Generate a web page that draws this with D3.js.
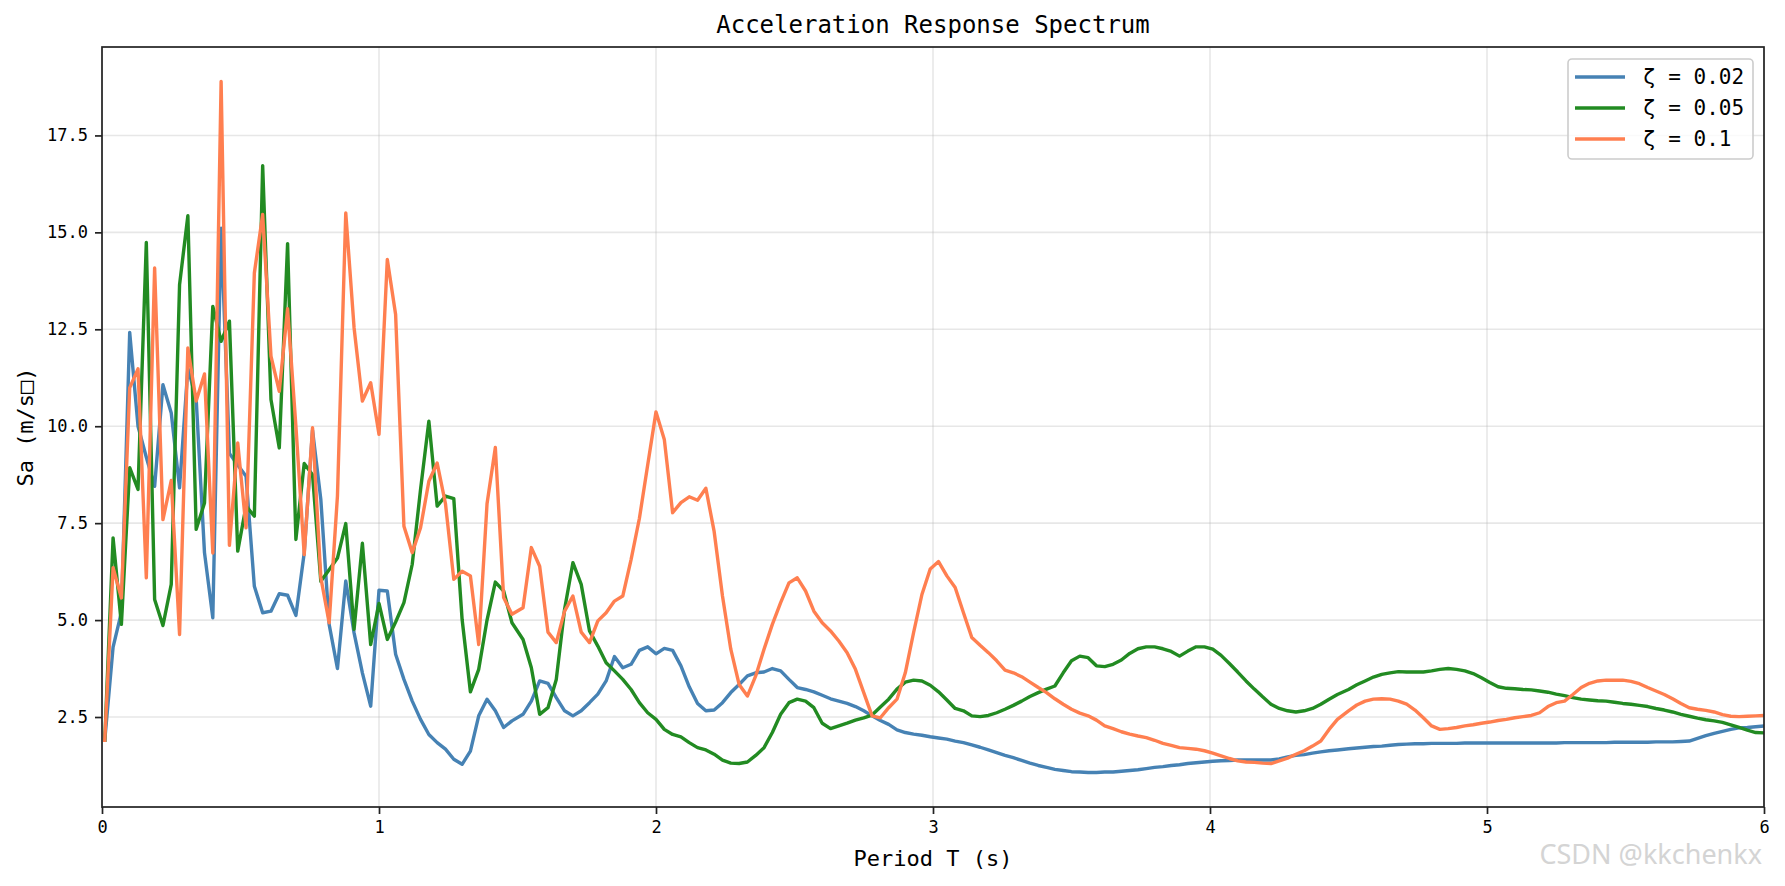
<!DOCTYPE html>
<html>
<head>
<meta charset="utf-8">
<script src="https://cdn.jsdelivr.net/npm/d3@7"></script>
<style>
  html, body { margin: 0; padding: 0; background: #fff; }
  svg { display: block; }
  text { font-family: "DejaVu Sans Mono", "Liberation Mono", monospace; }
</style>
</head>
<body>
<svg id="chart" width="1785" height="886"></svg>
<script>
// ---------------- DATA ----------------
const periods = [
0.01,0.04,0.07,0.10,0.13,0.16,0.19,0.22,0.25,0.28,
0.31,0.34,0.37,0.40,0.43,0.46,0.49,0.52,0.55,0.58,
0.61,0.64,0.67,0.70,0.73,0.76,0.79,0.82,0.85,0.88,
0.91,0.94,0.97,1.00,1.03,1.06,1.09,1.12,1.15,1.18,
1.21,1.24,1.27,1.30,1.33,1.36,1.39,1.42,1.45,1.48,
1.52,1.55,1.58,1.61,1.64,1.67,1.70,1.73,1.76,1.79,
1.82,1.85,1.88,1.91,1.94,1.97,2.00,2.03,2.06,2.09,
2.12,2.15,2.18,2.21,2.24,2.27,2.30,2.33,2.36,2.39,
2.42,2.45,2.48,2.51,2.54,2.57,2.60,2.63,2.66,2.69,
2.72,2.75,2.78,2.81,2.84,2.87,2.90,2.93,2.96,2.99,
3.02,3.05,3.08,3.11,3.14,3.17,3.20,3.23,3.26,3.29,
3.32,3.35,3.38,3.41,3.44,3.47,3.50,3.53,3.56,3.59,
3.62,3.65,3.68,3.71,3.74,3.77,3.80,3.83,3.86,3.89,
3.92,3.95,3.98,4.01,4.04,4.07,4.10,4.13,4.16,4.19,
4.22,4.25,4.28,4.31,4.34,4.37,4.40,4.43,4.46,4.50,
4.53,4.56,4.59,4.62,4.65,4.68,4.71,4.74,4.77,4.80,
4.83,4.86,4.89,4.92,4.95,4.98,5.01,5.04,5.07,5.10,
5.13,5.16,5.19,5.22,5.25,5.28,5.31,5.34,5.37,5.40,
5.43,5.46,5.49,5.52,5.55,5.58,5.61,5.64,5.67,5.70,
5.73,5.76,5.79,5.82,5.85,5.88,5.91,5.94,5.97,6.00
];

// ζ = 0.02
const sa002 = [
1.90,4.30,5.20,12.42,10.00,9.20,8.45,11.07,10.34,8.41,
11.50,10.70,6.74,5.06,15.11,9.30,9.00,8.71,5.87,5.19,
5.23,5.68,5.64,5.12,6.73,9.90,8.11,4.89,3.75,6.01,
4.67,3.64,2.78,5.77,5.75,4.12,3.47,2.91,2.44,2.05,
1.84,1.67,1.41,1.28,1.62,2.53,2.96,2.66,2.23,2.40,
2.57,2.91,3.43,3.37,3.00,2.66,2.53,2.66,2.87,3.09,
3.43,4.06,3.77,3.86,4.22,4.31,4.13,4.27,4.22,3.82,
3.28,2.85,2.66,2.68,2.87,3.13,3.34,3.56,3.64,3.66,
3.75,3.69,3.47,3.26,3.21,3.15,3.06,2.97,2.91,2.85,
2.77,2.66,2.53,2.41,2.31,2.17,2.10,2.06,2.03,1.99,
1.96,1.93,1.88,1.84,1.78,1.72,1.65,1.58,1.51,1.45,
1.38,1.31,1.25,1.20,1.15,1.12,1.09,1.08,1.07,1.07,
1.08,1.08,1.10,1.12,1.14,1.17,1.20,1.22,1.25,1.27,
1.30,1.32,1.34,1.36,1.37,1.38,1.39,1.39,1.39,1.39,
1.39,1.42,1.47,1.51,1.53,1.57,1.60,1.63,1.65,1.68,
1.70,1.72,1.74,1.75,1.77,1.79,1.80,1.81,1.81,1.82,
1.82,1.82,1.82,1.83,1.83,1.83,1.83,1.83,1.83,1.83,
1.83,1.83,1.83,1.83,1.83,1.84,1.84,1.84,1.84,1.84,
1.84,1.85,1.85,1.85,1.85,1.85,1.86,1.86,1.86,1.87,
1.88,1.95,2.02,2.08,2.13,2.18,2.22,2.23,2.25,2.27
];

// ζ = 0.05
const sa005 = [
1.90,7.12,4.89,8.93,8.37,14.74,5.53,4.86,5.92,13.65,
15.43,7.34,8.02,13.09,12.19,12.71,6.78,7.94,7.68,16.72,
10.69,9.44,14.71,7.08,9.04,8.75,6.00,6.30,6.60,7.49,
4.76,6.98,4.37,5.43,4.50,4.95,5.45,6.44,8.37,10.13,
7.94,8.20,8.13,5.02,3.15,3.73,5.00,5.98,5.75,4.93,
4.50,3.77,2.57,2.74,3.47,5.28,6.48,5.92,4.72,4.33,
3.90,3.69,3.47,3.21,2.87,2.61,2.44,2.18,2.05,1.99,
1.84,1.71,1.65,1.54,1.39,1.31,1.30,1.34,1.51,1.71,
2.10,2.57,2.87,2.96,2.91,2.74,2.34,2.20,2.27,2.34,
2.42,2.48,2.55,2.76,2.96,3.22,3.40,3.45,3.43,3.32,
3.15,2.94,2.72,2.66,2.53,2.51,2.54,2.61,2.70,2.80,
2.91,3.03,3.13,3.22,3.30,3.64,3.95,4.07,4.03,3.82,
3.80,3.86,3.97,4.14,4.26,4.31,4.31,4.26,4.19,4.07,
4.20,4.31,4.31,4.25,4.09,3.88,3.66,3.43,3.22,3.02,
2.83,2.72,2.66,2.63,2.66,2.72,2.83,2.96,3.08,3.21,
3.33,3.43,3.53,3.60,3.64,3.67,3.66,3.66,3.66,3.69,
3.73,3.75,3.73,3.69,3.62,3.51,3.39,3.28,3.24,3.23,
3.21,3.20,3.17,3.14,3.09,3.05,3.00,2.96,2.94,2.92,
2.91,2.88,2.85,2.83,2.80,2.77,2.72,2.68,2.63,2.57,
2.52,2.47,2.43,2.40,2.36,2.30,2.23,2.16,2.10,2.09
];

// ζ = 0.1
const sa010 = [
1.90,6.35,5.57,10.99,11.48,6.09,14.08,7.59,8.60,4.63,
12.02,10.65,11.35,6.73,18.89,6.93,9.57,7.38,13.95,15.46,
11.81,10.90,13.03,10.00,6.69,9.96,6.10,4.93,8.20,15.50,
12.54,10.65,11.12,9.79,14.30,12.88,7.42,6.74,7.38,8.58,
9.05,8.00,6.05,6.26,6.14,4.37,8.00,9.45,5.58,5.15,
5.32,6.87,6.39,4.69,4.42,5.23,5.62,4.69,4.42,4.98,
5.19,5.49,5.62,6.56,7.62,9.00,10.37,9.66,7.77,8.03,
8.18,8.09,8.40,7.28,5.62,4.25,3.34,3.04,3.56,4.25,
4.89,5.45,5.96,6.09,5.75,5.23,4.93,4.72,4.46,4.16,
3.73,3.13,2.53,2.48,2.74,2.96,3.64,4.68,5.66,6.32,
6.51,6.14,5.84,5.19,4.55,4.35,4.16,3.95,3.71,3.64,
3.54,3.40,3.26,3.13,2.97,2.83,2.70,2.60,2.53,2.42,
2.27,2.20,2.12,2.06,2.01,1.97,1.90,1.82,1.77,1.71,
1.69,1.67,1.63,1.57,1.50,1.43,1.37,1.34,1.33,1.31,
1.30,1.37,1.44,1.54,1.63,1.75,1.88,2.18,2.44,2.66,
2.81,2.91,2.96,2.97,2.96,2.91,2.83,2.68,2.48,2.27,
2.18,2.20,2.23,2.27,2.30,2.34,2.37,2.41,2.44,2.48,
2.51,2.54,2.61,2.77,2.87,2.91,3.08,3.26,3.37,3.43,
3.45,3.45,3.45,3.42,3.36,3.26,3.17,3.08,2.97,2.85,
2.74,2.70,2.67,2.63,2.56,2.52,2.51,2.52,2.53,2.54
];

const seriesNames  = ["ζ = 0.02", "ζ = 0.05", "ζ = 0.1"];
const seriesColors = ["#4682B4", "#228B22", "#FF7F50"];
const xTickValues  = [0, 1, 2, 3, 4, 5, 6];
const yTickValues  = [2.5, 5.0, 7.5, 10.0, 12.5, 15.0, 17.5];
const titleText  = "Acceleration Response Spectrum";
const xLabelText = "Period T (s)";
const yLabelText = "Sa (m/s□)";

// ---------------- LAYOUT ----------------
const W = 1785, H = 886;
const margin = { left: 102, right: 21, top: 47, bottom: 79 };
const iw = W - margin.left - margin.right;
const ih = H - margin.top - margin.bottom;

const svg = d3.select("#chart");
const g = svg.append("g").attr("transform", `translate(${margin.left},${margin.top})`);

const allSeries = [sa002, sa005, sa010];
const allVals = allSeries.flat();
const vmin = d3.min(allVals), vmax = d3.max(allVals);
const pad = (vmax - vmin) * 0.05;

const x = d3.scaleLinear().domain([0, 6]).range([0, iw]);
const y = d3.scaleLinear().domain([vmin - pad, vmax + pad]).range([ih, 0]);

// grid
g.append("g").selectAll("line").data(xTickValues).join("line")
  .attr("x1", d => x(d)).attr("x2", d => x(d)).attr("y1", 0).attr("y2", ih)
  .attr("stroke", "#b0b0b0").attr("stroke-opacity", 0.3).attr("stroke-width", 1.6);
g.append("g").selectAll("line").data(yTickValues).join("line")
  .attr("x1", 0).attr("x2", iw).attr("y1", d => y(d)).attr("y2", d => y(d))
  .attr("stroke", "#b0b0b0").attr("stroke-opacity", 0.3).attr("stroke-width", 1.6);

// lines
svg.append("clipPath").attr("id", "clip").append("rect")
  .attr("x", 0).attr("y", 0).attr("width", iw).attr("height", ih);
const line = d3.line().x((d, i) => x(periods[i])).y(d => y(d));
allSeries.forEach((s, k) => {
  g.append("path").datum(s)
    .attr("d", line)
    .attr("fill", "none")
    .attr("stroke", seriesColors[k])
    .attr("stroke-width", 3.4)
    .attr("stroke-linejoin", "round")
    .attr("stroke-linecap", "square")
    .attr("clip-path", "url(#clip)");
});

// axes
const xAxis = d3.axisBottom(x).tickValues(xTickValues).tickFormat(d3.format("d"))
  .tickSize(7).tickPadding(7);
const yAxis = d3.axisLeft(y).tickValues(yTickValues).tickFormat(d3.format(".1f"))
  .tickSize(7).tickPadding(7);

const gx = g.append("g").attr("transform", `translate(0,${ih})`).call(xAxis);
const gy = g.append("g").call(yAxis);
[gx, gy].forEach(a => {
  a.select(".domain").remove();
  a.selectAll(".tick line").attr("stroke", "#222").attr("stroke-width", 1.7);
  a.selectAll(".tick text").attr("font-size", 17).attr("fill", "#000")
    .style("font-family", "'DejaVu Sans Mono', monospace");
});

// frame
g.append("rect").attr("x", 0).attr("y", 0).attr("width", iw).attr("height", ih)
  .attr("fill", "none").attr("stroke", "#222").attr("stroke-width", 1.7);

// title & labels
svg.append("text").attr("x", margin.left + iw / 2).attr("y", 33)
  .attr("text-anchor", "middle").attr("font-size", 24).attr("fill", "#000").text(titleText);
svg.append("text").attr("x", margin.left + iw / 2).attr("y", 866)
  .attr("text-anchor", "middle").attr("font-size", 22).attr("fill", "#000").text(xLabelText);
svg.append("text").attr("transform", `translate(33,${margin.top + ih / 2}) rotate(-90)`)
  .attr("text-anchor", "middle").attr("font-size", 22).attr("fill", "#000").text(yLabelText);

// legend
const lg = svg.append("g");
lg.append("rect").attr("x", 1568).attr("y", 59).attr("width", 185).attr("height", 100)
  .attr("rx", 4).attr("fill", "#fff").attr("fill-opacity", 0.8)
  .attr("stroke", "#cccccc").attr("stroke-width", 1.6);
const rowY = [77, 108, 139];
seriesNames.forEach((name, k) => {
  lg.append("line").attr("x1", 1575).attr("x2", 1625).attr("y1", rowY[k]).attr("y2", rowY[k])
    .attr("stroke", seriesColors[k]).attr("stroke-width", 3.4);
  lg.append("text").attr("x", 1643).attr("y", rowY[k] + 7)
    .attr("font-size", 21).attr("fill", "#000").style("white-space", "pre").text(name);
});

// watermark
svg.append("text").attr("x", 1762).attr("y", 864).attr("text-anchor", "end")
  .attr("font-size", 27).style("fill", "#d4d4d4")
  .style("font-family", "'Noto Sans', sans-serif")
  .text("CSDN @kkchenkx");
</script>
</body>
</html>
